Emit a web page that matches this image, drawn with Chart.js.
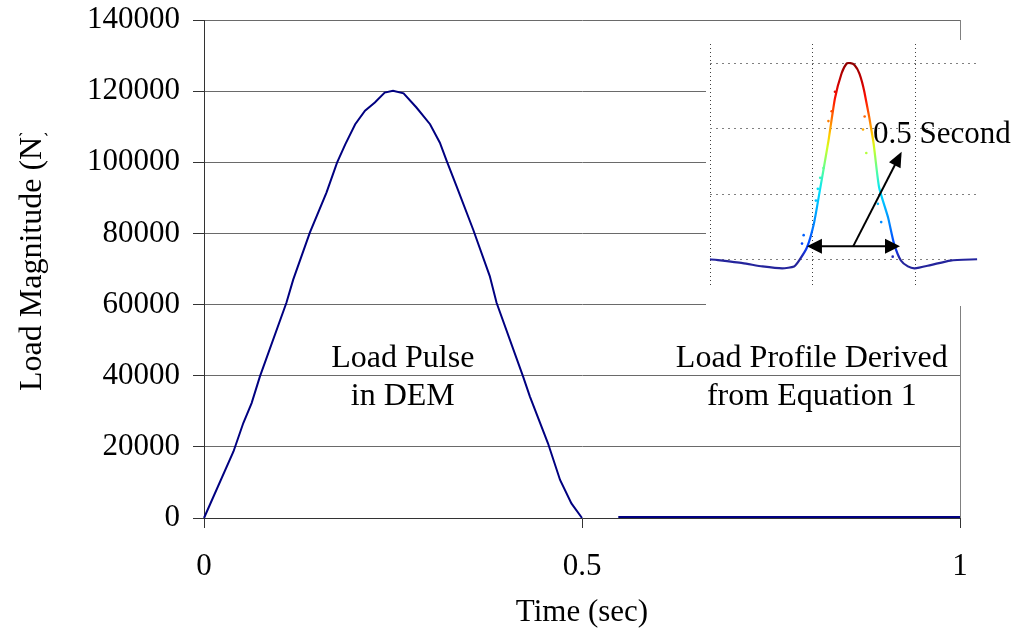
<!DOCTYPE html>
<html>
<head>
<meta charset="utf-8">
<script src="https://cdn.jsdelivr.net/npm/chart.js@4.4.1/dist/chart.umd.min.js"></script>
<style>
  html, body { margin: 0; padding: 0; background: #ffffff; }
  #wrap { position: relative; width: 1016px; height: 634px; overflow: hidden; }
  #main { position: absolute; left: 0; top: 0; }
  #inset { position: absolute; left: 706px; top: 40px; background: #ffffff; }
</style>
</head>
<body>
<div id="wrap">
  <canvas id="main" width="1016" height="634"></canvas>
  <canvas id="inset" width="310" height="266"></canvas>
</div>
<script>
// ---------------- data ----------------
const TIME = [0, 0.039, 0.052, 0.063, 0.074, 0.109, 0.118, 0.140, 0.162, 0.176, 0.187, 0.200,
              0.213, 0.226, 0.239, 0.250, 0.264, 0.281, 0.299, 0.312, 0.321, 0.334, 0.356,
              0.378, 0.387, 0.422, 0.431, 0.455, 0.471, 0.486, 0.500];
const LOAD = [0, 18700, 26700, 32300, 39800, 60500, 67000, 80200, 91500, 99900, 105100, 110700,
              114500, 116800, 119600, 120100, 119400, 115400, 110700, 105500, 100400, 93300, 81100,
              68000, 60500, 39800, 34200, 21000, 10700, 4100, 0];
const TAIL_TIME = [0.548, 1.0];
const TAIL_LOAD = [300, 300];

const Y_TICKS = [0, 20000, 40000, 60000, 80000, 100000, 120000, 140000];
const X_TICKS = [0, 0.5, 1];

// inset (equation-derived load profile), arbitrary units
const INSET_X = [0, 0.318, 0.511, 0.703, 0.819, 0.867, 0.944, 1.012, 1.069, 1.153, 1.217, 1.281,
                 1.329, 1.368, 1.407, 1.455, 1.503, 1.590, 1.647, 1.734, 1.792, 1.859, 1.927,
                 1.994, 2.148, 2.341, 2.601];
const INSET_Y = [0, -0.06, -0.11, -0.14, -0.11, -0.02, 0.18, 0.55, 1.05, 1.81, 2.47, 2.85,
                 3.0, 3.01, 2.98, 2.85, 2.57, 1.81, 1.10, 0.64, 0.24, -0.02, -0.11,
                 -0.14, -0.09, -0.02, 0];
const DOT_X = [1.217, 1.185, 1.153, 1.105, 1.073, 1.050, 1.031, 0.912, 0.896, 1.506, 1.490, 1.522, 1.635, 1.667, 1.779];
const DOT_Y = [2.57, 2.27, 2.12, 1.40, 1.25, 1.08, 0.90, 0.37, 0.24, 2.19, 1.99, 1.63, 0.85, 0.57, 0.04];
const INSET_GRID_X = [0, 1, 2];
const INSET_GRID_Y = [0, 1, 2, 3];

// ---------------- main chart ----------------
const SERIF = '"Liberation Serif", "Times New Roman", serif';
const toXY = (xs, ys) => xs.map((x, i) => ({ x: x, y: ys[i] }));

const textPlugin = {
  id: 'mainTexts',
  afterDraw(chart) {
    const { ctx, scales } = chart;
    const xs = scales.x, ys = scales.y;
    ctx.save();
    ctx.fillStyle = '#000';
    ctx.font = '32px ' + SERIF;
    ctx.textAlign = 'center';
    ctx.textBaseline = 'alphabetic';
    const notes = [
      { t: 0.263, v: 42500, s: 'Load Pulse' },
      { t: 0.263, v: 31800, s: 'in DEM' },
      { t: 0.804, v: 42500, s: 'Load Profile Derived' },
      { t: 0.804, v: 31800, s: 'from Equation 1' }
    ];
    notes.forEach(n => ctx.fillText(n.s, xs.getPixelForValue(n.t), ys.getPixelForValue(n.v)));
    // y-axis title (clipped at top like the reference)
    ctx.beginPath();
    ctx.rect(0, 133, 80, 400);
    ctx.clip();
    ctx.translate(41, 391);
    ctx.rotate(-Math.PI / 2);
    ctx.textAlign = 'left';
    ctx.font = '32px ' + SERIF;
    ctx.fillText('Load Magnitude (N)', 0, 0);
    ctx.restore();
  }
};

new Chart(document.getElementById('main'), {
  type: 'line',
  data: {
    datasets: [
      { data: toXY(TIME, LOAD), borderColor: '#000080', borderWidth: 2, pointRadius: 0, tension: 0, clip: 6 },
      { data: toXY(TAIL_TIME, TAIL_LOAD), borderColor: '#000080', borderWidth: 2, pointRadius: 0, tension: 0, clip: 6 }
    ]
  },
  options: {
    responsive: false,
    animation: false,
    layout: { padding: { top: 20, right: 56, bottom: 0, left: 0 } },
    plugins: { legend: { display: false }, tooltip: { enabled: false } },
    scales: {
      x: {
        type: 'linear', min: 0, max: 1,
        afterBuildTicks: s => { s.ticks = X_TICKS.map(v => ({ value: v })); },
        afterFit: s => { s.height = 116; s.paddingLeft = 0; s.paddingRight = 0; },
        ticks: { color: '#000', font: { family: SERIF, size: 31 }, padding: 20, maxRotation: 0,
                 callback: v => String(v) },
        grid: { color: c => (c.tick && c.tick.value === 1) ? '#808080' : 'rgba(0,0,0,0)',
                tickColor: '#333', tickLength: 10, lineWidth: 1 },
        border: { color: '#333', width: 1 },
        title: { display: true, text: 'Time (sec)', color: '#000', font: { family: SERIF, size: 31 },
                 padding: { top: 0, bottom: 3 } }
      },
      y: {
        type: 'linear', min: 0, max: 140000,
        afterBuildTicks: s => { s.ticks = Y_TICKS.map(v => ({ value: v })); },
        afterFit: s => { s.width = 204; s.paddingTop = 0; s.paddingBottom = 0; },
        ticks: { color: '#000', font: { family: SERIF, size: 31 }, padding: 13,
                 callback: v => String(v) },
        grid: { color: '#6a6a6a', tickColor: '#333', tickLength: 11, lineWidth: 1 },
        border: { color: '#333', width: 1 }
      }
    }
  },
  plugins: [textPlugin]
});

// ---------------- inset chart ----------------
const JET = [
  [0.00, '#24249c'], [0.03, '#1a30d0'], [0.07, '#0040ff'], [0.20, '#0090ff'],
  [0.35, '#00e0ff'], [0.45, '#50ffa0'], [0.57, '#d0ff20'], [0.63, '#ffd000'],
  [0.72, '#ff7000'], [0.82, '#ff1000'], [0.90, '#d00000'], [1.00, '#900000']
];
function hexToRgb(h) { return [parseInt(h.substr(1, 2), 16), parseInt(h.substr(3, 2), 16), parseInt(h.substr(5, 2), 16)]; }
function jetAt(f) {
  if (f <= JET[0][0]) return JET[0][1];
  for (let i = 1; i < JET.length; i++) {
    if (f <= JET[i][0]) {
      const a = JET[i - 1], b = JET[i];
      const k = (f - a[0]) / (b[0] - a[0]);
      const ca = hexToRgb(a[1]), cb = hexToRgb(b[1]);
      const c = ca.map((v, j) => Math.round(v + (cb[j] - v) * k));
      return 'rgb(' + c.join(',') + ')';
    }
  }
  return JET[JET.length - 1][1];
}
function lineGradient(context) {
  const chart = context.chart;
  const { ctx, chartArea, scales } = chart;
  if (!chartArea) return '#24249c';
  const y0 = scales.y.getPixelForValue(0), y3 = scales.y.getPixelForValue(3);
  const g = ctx.createLinearGradient(0, y0, 0, y3);
  JET.forEach(s => g.addColorStop(s[0], s[1]));
  return g;
}

function drawArrowHead(ctx, x1, y1, x2, y2, len, half) {
  const a = Math.atan2(y2 - y1, x2 - x1);
  ctx.beginPath();
  ctx.moveTo(x2, y2);
  ctx.lineTo(x2 - len * Math.cos(a) + half * Math.sin(a), y2 - len * Math.sin(a) - half * Math.cos(a));
  ctx.lineTo(x2 - len * Math.cos(a) - half * Math.sin(a), y2 - len * Math.sin(a) + half * Math.cos(a));
  ctx.closePath();
  ctx.fill();
}

const insetPlugin = {
  id: 'insetNotes',
  afterDatasetsDraw(chart) {
    const { ctx, scales } = chart;
    const X = v => scales.x.getPixelForValue(v), Y = v => scales.y.getPixelForValue(v);
    ctx.save();
    ctx.strokeStyle = '#000';
    ctx.fillStyle = '#000';
    ctx.lineWidth = 2;
    // horizontal double arrow
    const hy = Y(0.198), hl = X(0.944), hr = X(1.850);
    ctx.beginPath(); ctx.moveTo(hl + 10, hy); ctx.lineTo(hr - 10, hy); ctx.stroke();
    drawArrowHead(ctx, hr, hy, hl, hy, 15, 7.5);
    drawArrowHead(ctx, hl, hy, hr, hy, 15, 7.5);
    // diagonal arrow
    const dx1 = X(1.394), dy1 = hy, dx2 = X(1.866), dy2 = Y(1.648);
    const ang = Math.atan2(dy2 - dy1, dx2 - dx1);
    ctx.beginPath(); ctx.moveTo(dx1, dy1); ctx.lineTo(dx2 - 10 * Math.cos(ang), dy2 - 10 * Math.sin(ang)); ctx.stroke();
    drawArrowHead(ctx, dx1, dy1, dx2, dy2, 15, 6.5);
    // label
    ctx.font = '31px ' + SERIF;
    ctx.textAlign = 'left';
    ctx.textBaseline = 'alphabetic';
    ctx.fillText('0.5 Second', X(1.587), Y(1.785));
    ctx.restore();
  }
};

new Chart(document.getElementById('inset'), {
  type: 'line',
  data: {
    datasets: [
      { data: toXY(INSET_X, INSET_Y), borderColor: lineGradient, borderWidth: 2.2, pointRadius: 0, tension: 0.2, clip: 4 },
      { type: 'scatter', data: toXY(DOT_X, DOT_Y), showLine: false, pointRadius: 1.3, borderWidth: 0,
        pointBackgroundColor: c => jetAt((c.raw ? c.raw.y : 0) / 3) }
    ]
  },
  options: {
    responsive: false,
    animation: false,
    layout: { padding: { top: 2, right: 39, bottom: 19, left: 1 } },
    plugins: { legend: { display: false }, tooltip: { enabled: false } },
    scales: {
      x: {
        type: 'linear', min: 0, max: 2.6,
        afterBuildTicks: s => { s.ticks = INSET_GRID_X.map(v => ({ value: v })); },
        afterFit: s => { s.height = 0; s.paddingLeft = 0; s.paddingRight = 0; },
        ticks: { display: false },
        grid: { color: '#404040', lineWidth: 1, drawTicks: false },
        border: { display: false, dash: [1, 3] }
      },
      y: {
        type: 'linear', min: -0.426, max: 3.303,
        afterBuildTicks: s => { s.ticks = INSET_GRID_Y.map(v => ({ value: v })); },
        afterFit: s => { s.width = 0; s.paddingTop = 0; s.paddingBottom = 0; },
        ticks: { display: false },
        grid: { color: '#808080', lineWidth: 1, drawTicks: false },
        border: { display: false, dash: [2, 4] }
      }
    }
  },
  plugins: [insetPlugin]
});
</script>
</body>
</html>
